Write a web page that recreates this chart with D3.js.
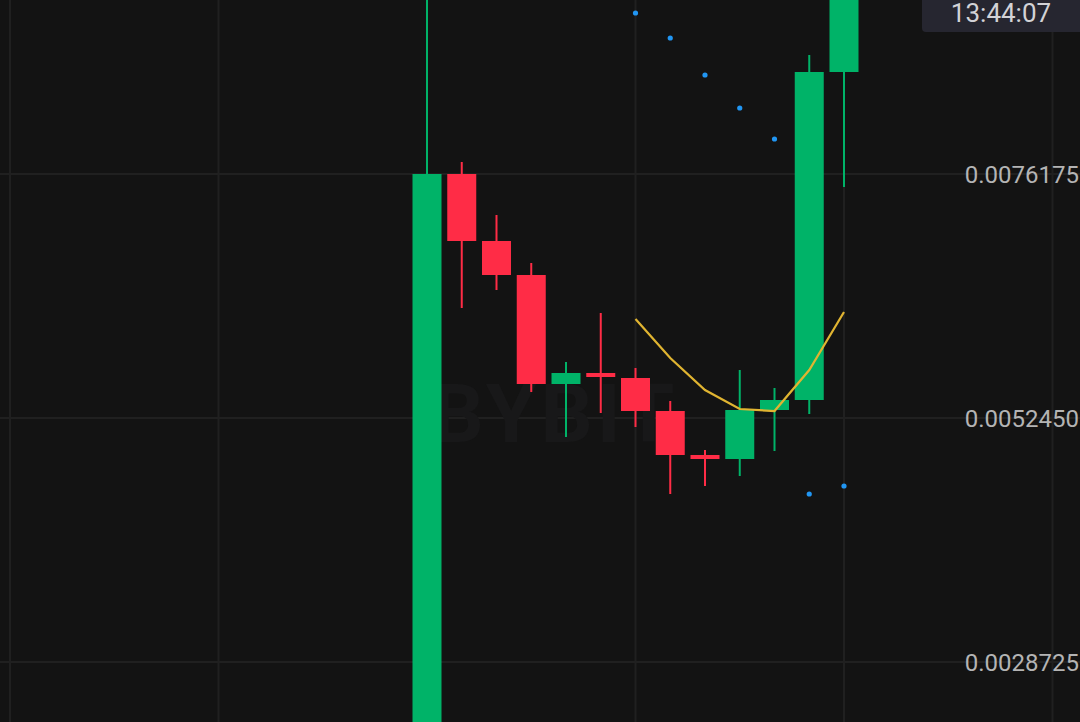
<!DOCTYPE html>
<html><head><meta charset="utf-8">
<script src="https://cdn.jsdelivr.net/npm/d3@7"></script>
<style>html,body{margin:0;padding:0;background:#131313;overflow:hidden}</style>
</head><body>
<svg id="c" width="1080" height="722"></svg>
<script>
// ---- data ----
const candleIndex = [0,1,2,3,4,5,6,7,8,9,10,11,12];
const opens  = [0.0015307,0.0076175,0.0069660,0.0066354,0.0055756,0.0056825,0.0056339,0.0053131,0.0048852,0.0048463,0.0053228,0.0054200,0.0086093];
const closes = [0.0076175,0.0069660,0.0066354,0.0055756,0.0056825,0.0056436,0.0053131,0.0048852,0.0048463,0.0053228,0.0054200,0.0086093,0.0098928];
const highs  = [0.0096000,0.0077342,0.0072188,0.0067521,0.0057895,0.0062659,0.0057312,0.0054103,0.0049338,0.0057117,0.0055367,0.0087746,0.0101000];
const lows   = [0.0014000,0.0063146,0.0064896,0.0054978,0.0050602,0.0052936,0.0051575,0.0045060,0.0045838,0.0046810,0.0049241,0.0052839,0.0074911];
const sarIndex = [6,7,8,9,10,11,12];
const sarValues = [0.0091830,0.0089399,0.0085801,0.0082592,0.0079578,0.0045060,0.0045838];
const maIndex = [6,7,8,9,10,11,12];
const maValues = [0.0062076,0.0058284,0.0055172,0.0053325,0.0053131,0.0057117,0.0062757];
const priceTicks = [0.0028725,0.0052450,0.0076175];
const timeGridIndex = [-12,-6,0,6,12,18];
const clockLabel = "13:44:07";
const watermark = "BYBIT";

// ---- drawing ----
const W = 1080, H = 722;
const svg = d3.select("#c");
const x = d3.scaleLinear().domain([0,12]).range([427,844]);
const y = d3.scaleLinear().domain([0.0052450,0.0076175]).range([418,174]);

svg.append("rect").attr("width",W).attr("height",H).attr("fill","#131313");

// grid
svg.append("g").selectAll("line").data(timeGridIndex).join("line")
  .attr("x1",d=>x(d)).attr("x2",d=>x(d)).attr("y1",0).attr("y2",H)
  .attr("stroke","#202020").attr("stroke-width",2);
svg.append("g").selectAll("line").data(priceTicks).join("line")
  .attr("x1",0).attr("x2",W).attr("y1",d=>y(d)).attr("y2",d=>y(d))
  .attr("stroke","#202020").attr("stroke-width",2);

// watermark
svg.append("text").attr("x",555).attr("y",442)
  .attr("text-anchor","middle").attr("font-family","Roboto, sans-serif")
  .attr("font-weight","bold").attr("font-size",82).attr("letter-spacing",4)
  .attr("fill","#181819").text(watermark);

// candles
const data = candleIndex.map((i,k)=>({i,o:opens[k],c:closes[k],h:highs[k],l:lows[k]}));
const green = "#00b368", red = "#ff2c46";
const bw = 29;
const g = svg.append("g");
g.selectAll("line.wick").data(data).join("line").attr("class","wick")
  .attr("x1",d=>x(d.i)).attr("x2",d=>x(d.i))
  .attr("y1",d=>y(d.h)).attr("y2",d=>y(d.l))
  .attr("stroke",d=>d.c>=d.o?green:red).attr("stroke-width",2);
g.selectAll("rect.body").data(data).join("rect").attr("class","body")
  .attr("x",d=>x(d.i)-bw/2).attr("width",bw)
  .attr("y",d=>y(Math.max(d.o,d.c)))
  .attr("height",d=>Math.max(3,Math.abs(y(d.o)-y(d.c))))
  .attr("fill",d=>d.c>=d.o?green:red);

// MA line
svg.append("path")
  .datum(maIndex.map((i,k)=>[i,maValues[k]]))
  .attr("d",d3.line().x(d=>x(d[0])).y(d=>y(d[1])))
  .attr("fill","none").attr("stroke","#e0b431").attr("stroke-width",2.2);

// SAR dots
svg.append("g").selectAll("circle").data(sarIndex.map((i,k)=>[i,sarValues[k]])).join("circle")
  .attr("cx",d=>x(d[0])).attr("cy",d=>y(d[1])).attr("r",2.6).attr("fill","#2196f3");

// price axis labels
const yAxis = d3.axisRight(y).tickValues(priceTicks).tickSize(0).tickFormat(d3.format(".7f"));
const ax = svg.append("g").attr("transform","translate(1079,0)").call(yAxis);
ax.select(".domain").remove();
ax.selectAll("text").attr("x",0).attr("text-anchor","end").attr("dy","0.35em")
  .attr("font-family","Roboto, sans-serif").attr("font-size",24).attr("fill","#b4b4b4");

// clock box
svg.append("rect").attr("x",922).attr("y",-6).attr("width",170).attr("height",38).attr("rx",4)
  .attr("fill","#262630");
svg.append("text").attr("x",1001).attr("y",22).attr("text-anchor","middle")
  .attr("font-family","Roboto, sans-serif").attr("font-size",26).attr("fill","#d2d2d6")
  .text(clockLabel);
</script>
</body></html>
